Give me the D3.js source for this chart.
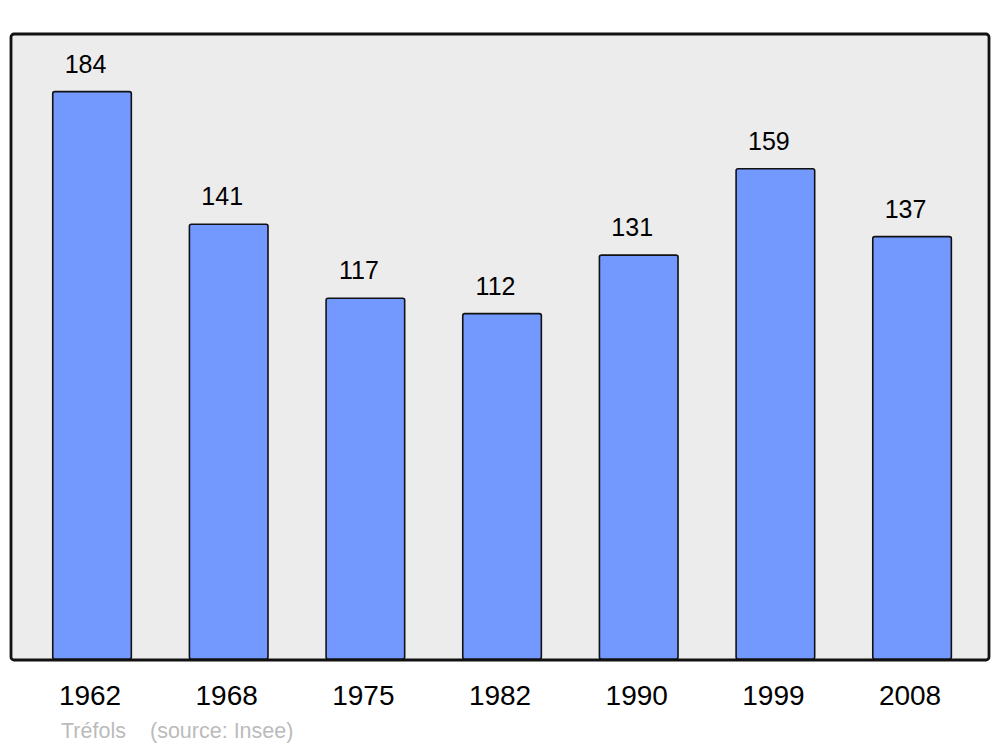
<!DOCTYPE html>
<html><head><meta charset="utf-8">
<script src="https://cdn.jsdelivr.net/npm/d3@7"></script>
<style>body{margin:0;background:#fff}svg{display:block}</style>
</head><body>
<svg id="c" width="1000" height="747"></svg>
<script>
const years = ["1962","1968","1975","1982","1990","1999","2008"];
const population = [184,141,117,112,131,159,137];
const commune = "Tréfols";
const source = "(source: Insee)";

const svg = d3.select("#c");
const plot = {x0: 11, x1: 989, y0: 34, y1: 660};

svg.append("rect").attr("x", plot.x0).attr("y", plot.y0)
  .attr("width", plot.x1 - plot.x0).attr("height", plot.y1 - plot.y0)
  .attr("rx", 3).attr("fill", "#ececec").attr("stroke", "#111").attr("stroke-width", 2.8);

const x = d3.scaleBand().domain(years).range([23.7, 980.4]).paddingInner(0.425).paddingOuter(0.2125);
const y = d3.scaleLinear().domain([0, 202.7]).range([plot.y1 - 1, plot.y0]);

svg.selectAll("rect.bar").data(years).enter().append("rect").attr("class","bar")
  .attr("x", d => x(d)).attr("width", x.bandwidth())
  .attr("y", (d,i) => y(population[i])).attr("height", (d,i) => y(0) - y(population[i]))
  .attr("rx", 2).attr("fill", "#7399ff").attr("stroke", "#111").attr("stroke-width", 1.6);

svg.selectAll("text.val").data(years).enter().append("text").attr("class","val")
  .attr("x", d => x(d) + x.bandwidth()/2 - 6.5).attr("y", (d,i) => y(population[i]) - 19)
  .attr("text-anchor","middle").attr("font-family","Liberation Sans, Arial, sans-serif")
  .attr("font-size", 25).attr("fill","#000").text((d,i) => population[i]);

svg.selectAll("text.yr").data(years).enter().append("text").attr("class","yr")
  .attr("x", d => x(d) + x.bandwidth()/2 - 2).attr("y", 704.5)
  .attr("text-anchor","middle").attr("font-family","Liberation Sans, Arial, sans-serif")
  .attr("font-size", 28).attr("fill","#000").text(d => d);

svg.append("text").attr("x", 61).attr("y", 737.5).attr("font-family","Liberation Sans, Arial, sans-serif")
  .attr("font-size", 21.5).attr("fill","#bbb").text(commune);
svg.append("text").attr("x", 150).attr("y", 737.5).attr("font-family","Liberation Sans, Arial, sans-serif")
  .attr("font-size", 21.5).attr("fill","#bbb").text(source);
</script>
</body></html>
